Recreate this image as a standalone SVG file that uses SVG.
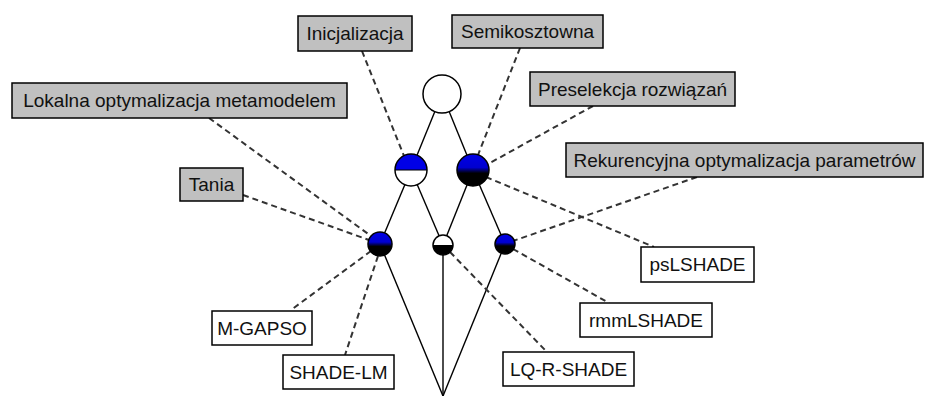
<svg xmlns="http://www.w3.org/2000/svg" width="925" height="396" viewBox="0 0 925 396">
  <style>
    .edge { stroke: #000; stroke-width: 1.4; fill: none; }
    .link { stroke: #333; stroke-width: 2; stroke-dasharray: 6 4; fill: none; }
    .ring { fill: none; stroke: #000; stroke-width: 1.5; }
    .tag rect { fill: #c0c0c0; stroke: #000; stroke-width: 1.5; }
    .alg rect { fill: #fff; stroke: #000; stroke-width: 1.5; }
    text { font-family: "Liberation Sans", Arial, sans-serif; font-size: 19px; fill: #111; text-anchor: middle; }
  </style>
  <defs>
    <linearGradient id="blueBlack" x1="0" y1="0" x2="0" y2="1">
      <stop offset="0" stop-color="#0000e6"/>
      <stop offset="0.42" stop-color="#0000d0"/>
      <stop offset="0.6" stop-color="#000"/>
      <stop offset="1" stop-color="#000"/>
    </linearGradient>
  </defs>
  <rect width="925" height="396" fill="#fff"/>

  <!-- lattice edges and dashed annotation links -->
  <g id="connectors">
    <line class="edge" x1="442" y1="94" x2="411" y2="170"/>
    <line class="edge" x1="442" y1="94" x2="473" y2="170"/>
    <line class="edge" x1="411" y1="170" x2="380" y2="244"/>
    <line class="edge" x1="411" y1="170" x2="443" y2="245"/>
    <line class="edge" x1="473" y1="170" x2="443" y2="245"/>
    <line class="edge" x1="473" y1="170" x2="505" y2="244"/>
    <line class="edge" x1="380" y1="244" x2="443" y2="396"/>
    <line class="edge" x1="443" y1="245" x2="443" y2="396"/>
    <line class="edge" x1="505" y1="244" x2="443" y2="396"/>

    <line class="link" x1="362" y1="51" x2="404" y2="156"/>
    <line class="link" x1="520" y1="48" x2="478" y2="155"/>
    <line class="link" x1="593" y1="106" x2="488" y2="164"/>
    <line class="link" x1="697" y1="177" x2="513" y2="241"/>
    <line class="link" x1="209" y1="118" x2="371" y2="236"/>
    <line class="link" x1="243" y1="195" x2="369" y2="240"/>
    <line class="link" x1="486" y1="177" x2="654" y2="247"/>
    <line class="link" x1="513" y1="249" x2="609" y2="303"/>
    <line class="link" x1="450" y1="252" x2="546" y2="351"/>
    <line class="link" x1="371" y1="251" x2="291" y2="310"/>
    <line class="link" x1="378" y1="256" x2="345" y2="355"/>
  </g>

  <!-- concept nodes -->
  <g id="node-top">
    <circle cx="442" cy="94" r="19" fill="#fff"/>
    <circle cx="442" cy="94" r="19" class="ring"/>
  </g>
  <g id="node-init">
    <circle cx="411" cy="170" r="16" fill="#fff"/>
    <path d="M395 170 A16 16 0 0 1 427 170 Z" fill="#0000e6"/>
    <line x1="395" y1="170" x2="427" y2="170" stroke="#000" stroke-width="1"/>
    <circle cx="411" cy="170" r="16" class="ring"/>
  </g>
  <g id="node-semi">
    <circle cx="473" cy="170" r="16" fill="url(#blueBlack)"/>
    <circle cx="473" cy="170" r="16" class="ring"/>
  </g>
  <g id="node-left">
    <circle cx="380" cy="244" r="12" fill="url(#blueBlack)"/>
    <circle cx="380" cy="244" r="12" class="ring"/>
  </g>
  <g id="node-mid">
    <circle cx="443" cy="245" r="10" fill="#fff"/>
    <path d="M433 245 A10 10 0 0 0 453 245 Z" fill="#000"/>
    <circle cx="443" cy="245" r="10" class="ring"/>
  </g>
  <g id="node-right">
    <circle cx="505" cy="244" r="10" fill="url(#blueBlack)"/>
    <circle cx="505" cy="244" r="10" class="ring"/>
  </g>

  <!-- attribute labels -->
  <g id="tag-inicjalizacja" class="tag">
    <rect x="298" y="16" width="114" height="35"/>
    <text x="355" y="40">Inicjalizacja</text>
  </g>
  <g id="tag-semikosztowna" class="tag">
    <rect x="452" y="15" width="151" height="33"/>
    <text x="527.5" y="38">Semikosztowna</text>
  </g>
  <g id="tag-preselekcja" class="tag">
    <rect x="530" y="72" width="205" height="34"/>
    <text x="632.5" y="96">Preselekcja rozwiązań</text>
  </g>
  <g id="tag-rekurencyjna" class="tag">
    <rect x="566" y="143" width="357" height="34"/>
    <text x="744.5" y="167">Rekurencyjna optymalizacja parametrów</text>
  </g>
  <g id="tag-lokalna" class="tag">
    <rect x="12" y="83" width="335" height="35"/>
    <text x="179.5" y="107">Lokalna optymalizacja metamodelem</text>
  </g>
  <g id="tag-tania" class="tag">
    <rect x="180" y="168" width="63" height="33"/>
    <text x="211.5" y="191">Tania</text>
  </g>

  <!-- algorithm labels -->
  <g id="alg-pslshade" class="alg">
    <rect x="641" y="247" width="113" height="35"/>
    <text x="697.5" y="271">psLSHADE</text>
  </g>
  <g id="alg-rmmlshade" class="alg">
    <rect x="580" y="303" width="132" height="34"/>
    <text x="646" y="327">rmmLSHADE</text>
  </g>
  <g id="alg-lqrshade" class="alg">
    <rect x="503" y="352" width="131" height="34"/>
    <text x="568.5" y="376">LQ-R-SHADE</text>
  </g>
  <g id="alg-mgapso" class="alg">
    <rect x="212" y="311" width="100" height="34"/>
    <text x="262" y="335">M-GAPSO</text>
  </g>
  <g id="alg-shadelm" class="alg">
    <rect x="283" y="355" width="111" height="34"/>
    <text x="338.5" y="379">SHADE-LM</text>
  </g>
</svg>
